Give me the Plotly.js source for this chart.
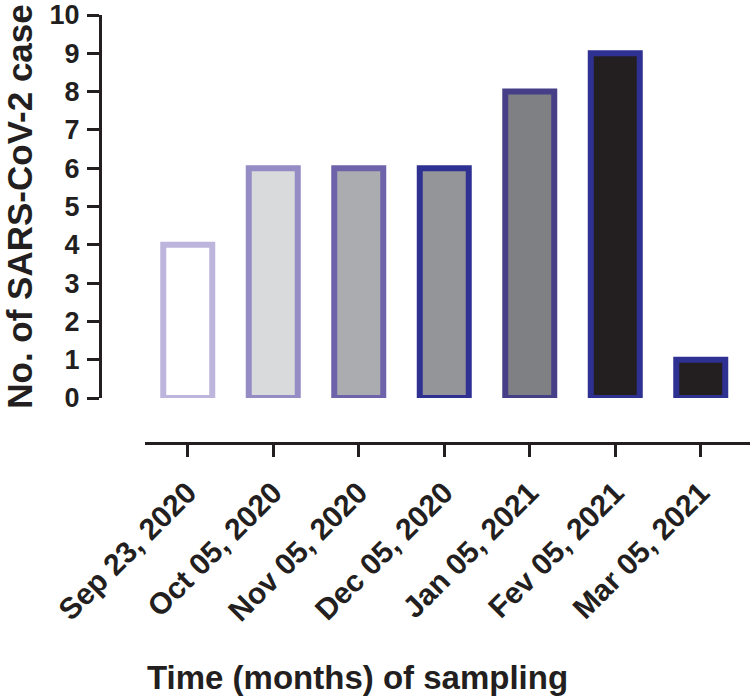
<!DOCTYPE html>
<html>
<head>
<meta charset="utf-8">
<script src="https://cdn.plot.ly/plotly-3.0.1.min.js"></script>
<style>html,body{margin:0;padding:0;background:#fff;}#chart{width:750px;height:700px;}</style>
</head>
<body>
<div id="chart"></div>
<script>
const categories = ["Sep 23, 2020", "Oct 05, 2020", "Nov 05, 2020", "Dec 05, 2020", "Jan 05, 2021", "Fev 05, 2021", "Mar 05, 2021"];
const cases = [4, 6, 6, 6, 8, 9, 1];
const fillColors = ["#ffffff", "#d9dadc", "#abacb0", "#939598", "#7f8083", "#231f20", "#231f20"];
const borderColors = ["#bdb5dc", "#958bc5", "#6e63ab", "#2e3192", "#463f88", "#2e3192", "#2e3192"];
const yTicks = [0, 1, 2, 3, 4, 5, 6, 7, 8, 9, 10];
const yTitle = "No. of SARS-CoV-2 case";
const xTitle = "Time (months) of sampling";

const ink = "#231f20";
const fam = "Liberation Sans, Arial, Helvetica, sans-serif";

const trace = {
  type: "bar",
  x: categories,
  y: cases,
  width: 0.573,
  marker: {
    color: fillColors,
    line: { color: borderColors, width: 6 }
  },
  hoverinfo: "x+y"
};

const layout = {
  width: 750,
  height: 700,
  autosize: false,
  margin: { l: 100, r: 0, t: 15, b: 257, pad: 0 },
  paper_bgcolor: "#ffffff",
  plot_bgcolor: "#ffffff",
  showlegend: false,
  font: { family: fam, color: ink, weight: "bold" },
  xaxis: {
    type: "category",
    domain: [45 / 650, 1],
    range: [-0.5, 6.576],
    anchor: "free",
    position: 0,
    showline: true,
    linewidth: 3,
    linecolor: ink,
    ticks: "outside",
    ticklen: 12,
    tickwidth: 3,
    tickcolor: ink,
    tickangle: -45,
    ticklabelstandoff: 6,
    tickfont: { family: fam, size: 30, color: ink, weight: "bold" },
    showgrid: false,
    zeroline: false,
    fixedrange: true
  },
  yaxis: {
    domain: [45 / 428, 1],
    range: [0, 10],
    anchor: "free",
    position: 0,
    tickvals: yTicks,
    ticktext: yTicks.map(String),
    showline: true,
    linewidth: 3,
    linecolor: ink,
    ticks: "outside",
    ticklen: 12,
    tickwidth: 3,
    tickcolor: ink,
    ticklabelstandoff: 2,
    tickfont: { family: fam, size: 27, color: ink, weight: "bold" },
    showgrid: false,
    zeroline: false,
    fixedrange: true,
    title: { text: yTitle, font: { family: fam, size: 35, color: ink, weight: "bold" }, standoff: 10 }
  },
  annotations: [{
    text: xTitle,
    xref: "paper", yref: "paper",
    x: (357 - 100) / 650, y: (443 - 677) / 428,
    xanchor: "center", yanchor: "middle",
    showarrow: false,
    font: { family: fam, size: 33, color: ink, weight: "bold" }
  }]
};

Plotly.newPlot("chart", [trace], layout, { displayModeBar: false, staticPlot: true });
</script>
</body>
</html>
